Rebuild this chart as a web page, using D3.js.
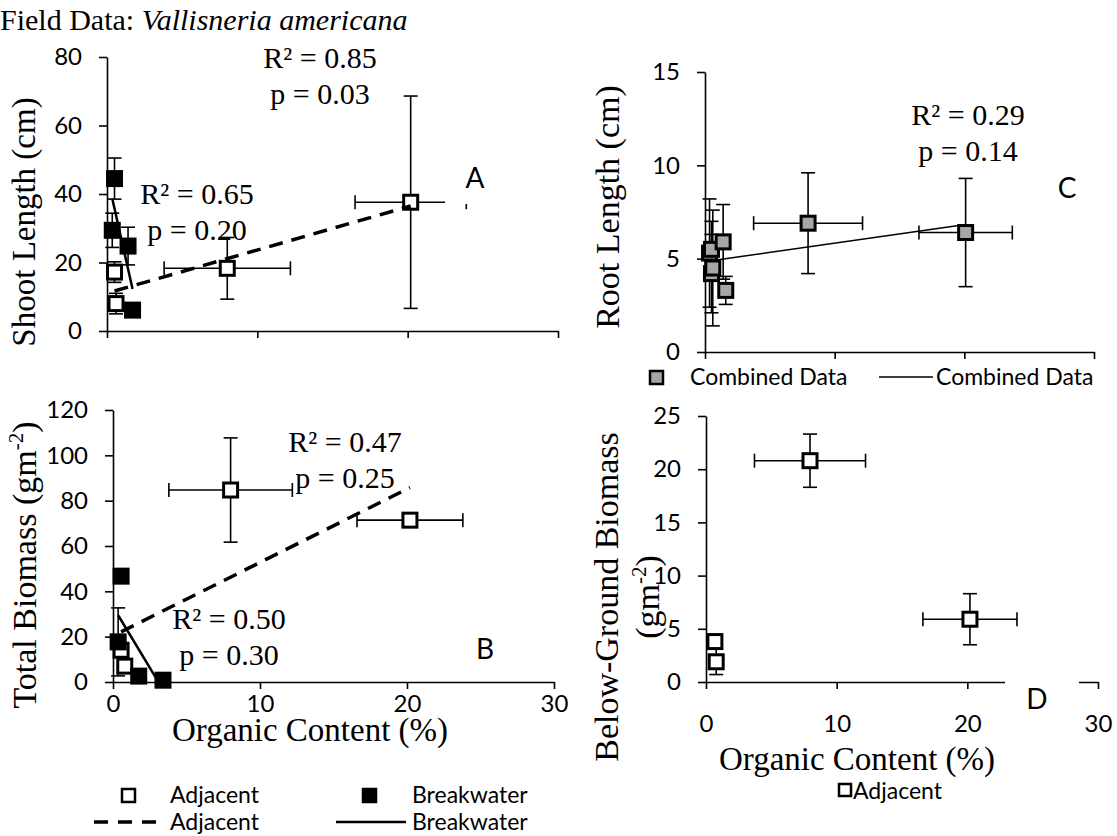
<!DOCTYPE html>
<html>
<head>
<meta charset="utf-8">
<script src="https://cdn.jsdelivr.net/npm/d3@7"></script>
<style>
  html, body { margin: 0; padding: 0; background: #fff; }
  svg { display: block; }
</style>
</head>
<body>
<svg id="chart" width="1117" height="836"></svg>
<script>
// ---- Field measurements of Vallisneria americana vs. sediment organic content ----
// Each point: organic content (x, %), response (y), and the error-bar half widths.

// Panel A: shoot length (cm)
const shootAdjacent = [
  { x: 0.5,  y: 17.2, xe: 0.2,  ye: 3.0 },
  { x: 0.6,  y: 8.0,  xe: 0.2,  ye: 3.0 },
  { x: 8.0,  y: 18.3, xe: 4.2,  ye: 9.0 },
  { x: 20.2, y: 37.6, xe: 3.7,  ye: 31.0 }
];
const shootBreakwater = [
  { x: 0.5,  y: 44.5, xe: 0.15, ye: 6.0 },
  { x: 0.35, y: 29.4, xe: 0.15, ye: 5.0 },
  { x: 1.4,  y: 24.8, xe: 0.2,  ye: 5.5 },
  { x: 1.7,  y: 6.1,  xe: 0.2,  ye: 1.0 }
];

// Panel B: total biomass (g m-2)
const biomassAdjacent = [
  { x: 0.55, y: 14.0, xe: 0.2, ye: 3.0 },
  { x: 0.8,  y: 7.0,  xe: 0.2, ye: 2.0 },
  { x: 8.0,  y: 84.7, xe: 4.2, ye: 23.0 },
  { x: 20.2, y: 71.4, xe: 3.6, ye: 2.0 }
];
const biomassBreakwater = [
  { x: 0.55, y: 46.7, xe: 0.2, ye: 2.0 },
  { x: 0.35, y: 17.7, xe: 0.2, ye: 15.0 },
  { x: 1.75, y: 2.6,  xe: 0.2, ye: 1.5 },
  { x: 3.4,  y: 0.8,  xe: 0.2, ye: 0.5 }
];

// Panel C: root length (cm), both sites pooled
const rootCombined = [
  { x: 0.35, y: 5.3, xe: 0.15, ye: 2.9 },
  { x: 0.5,  y: 5.5, xe: 0.15, ye: 1.5 },
  { x: 0.5,  y: 4.2, xe: 0.15, ye: 2.1 },
  { x: 0.6,  y: 4.5, xe: 0.2,  ye: 3.1 },
  { x: 1.4,  y: 5.9, xe: 0.2,  ye: 2.0 },
  { x: 1.6,  y: 3.3, xe: 0.2,  ye: 0.75 },
  { x: 7.95, y: 6.9, xe: 4.2,  ye: 2.7 },
  { x: 20.1, y: 6.4, xe: 3.6,  ye: 2.9 }
];

// Panel D: below-ground biomass (g m-2), adjacent site
const belowAdjacent = [
  { x: 0.68, y: 3.8,  xe: 0.15, ye: 0.6 },
  { x: 0.78, y: 1.9,  xe: 0.15, ye: 1.2 },
  { x: 7.96, y: 20.8, xe: 4.25, ye: 2.5 },
  { x: 20.2, y: 5.9,  xe: 3.6,  ye: 2.4 }
];

// Axis tick values
const xTicks = [0, 10, 20, 30];
const shootTicks = [0, 20, 40, 60, 80];
const rootTicks = [0, 5, 10, 15];
const biomassTicks = [0, 20, 40, 60, 80, 100, 120];
const belowTicks = [0, 5, 10, 15, 20, 25];

// Regression statistics printed beside the fits
const statsShoot = { adjacent: ["R² = 0.85", "p = 0.03"], breakwater: ["R² = 0.65", "p = 0.20"] };
const statsRoot = { combined: ["R² = 0.29", "p = 0.14"] };
const statsBiomass = { adjacent: ["R² = 0.47", "p = 0.25"], breakwater: ["R² = 0.50", "p = 0.30"] };

// ---- drawing ----
const SERIF = "'Liberation Serif','Times New Roman',Times,serif";
const SANS = "Lato,'Open Sans','Noto Sans',sans-serif";
const TICK_PX = 24, LEGEND_PX = 23, TITLE_PX = 34, STAT_PX = 30, LETTER_PX = 28;
const svg = d3.select("#chart");
const defs = svg.append("defs");

function panel(o) {
  const x = d3.scaleLinear().domain([0, 30]).range(o.xr);
  const y = d3.scaleLinear().domain([0, d3.max(o.yTicks)]).range(o.yr);
  const g = svg.append("g");
  defs.append("clipPath").attr("id", "clip-" + o.id)
    .append("rect")
    .attr("x", o.xr[0]).attr("y", o.yr[1])
    .attr("width", o.xr[1] - o.xr[0]).attr("height", o.yr[0] - o.yr[1]);

  const xa = g.append("g")
    .attr("transform", `translate(0,${o.yr[0]})`)
    .call(d3.axisBottom(x).tickValues(xTicks).tickSize(7).tickSizeOuter(0)
      .tickPadding(o.xPad || 8)
      .tickFormat(o.xLabels ? d3.format("d") : () => ""));
  const ya = g.append("g")
    .attr("transform", `translate(${o.xr[0]},0)`)
    .call(d3.axisLeft(y).tickValues(o.yTicks).tickSize(8).tickSizeOuter(0)
      .tickPadding(17).tickFormat(d3.format("d")));
  [xa, ya].forEach(a => {
    a.attr("font-size", null).attr("font-family", null);
    a.selectAll("path, line").attr("stroke", "#000").attr("stroke-width", 1.6);
    a.selectAll("text").attr("fill", "#000")
      .style("font-family", SANS).style("font-size", TICK_PX + "px");
  });
  return { x, y, g, clip: `url(#clip-${o.id})` };
}

function errorBars(p, data) {
  const eg = p.g.append("g").attr("stroke", "#000").attr("stroke-width", 1.6);
  const cap = 7;
  data.forEach(d => {
    const cx = p.x(d.x), cy = p.y(d.y);
    if (d.ye) {
      const t = p.y(d.y + d.ye), b = p.y(d.y - d.ye);
      eg.append("line").attr("x1", cx).attr("x2", cx).attr("y1", t).attr("y2", b);
      eg.append("line").attr("x1", cx - cap).attr("x2", cx + cap).attr("y1", t).attr("y2", t);
      eg.append("line").attr("x1", cx - cap).attr("x2", cx + cap).attr("y1", b).attr("y2", b);
    }
    if (d.xe) {
      const l = p.x(d.x - d.xe), r = p.x(d.x + d.xe);
      eg.append("line").attr("x1", l).attr("x2", r).attr("y1", cy).attr("y2", cy);
      eg.append("line").attr("x1", l).attr("x2", l).attr("y1", cy - cap).attr("y2", cy + cap);
      eg.append("line").attr("x1", r).attr("x2", r).attr("y1", cy - cap).attr("y2", cy + cap);
    }
  });
}

function markers(p, data, fill) {
  p.g.append("g").selectAll("rect").data(data).join("rect")
    .attr("x", d => p.x(d.x) - 7).attr("y", d => p.y(d.y) - 7)
    .attr("width", 14).attr("height", 14)
    .attr("fill", fill).attr("stroke", "#000").attr("stroke-width", 3);
}

// ordinary least-squares line over the range of the data
function leastSquares(data) {
  const mx = d3.mean(data, d => d.x), my = d3.mean(data, d => d.y);
  const b = d3.sum(data, d => (d.x - mx) * (d.y - my)) / d3.sum(data, d => (d.x - mx) ** 2);
  const a = my - b * mx;
  const [x0, x1] = d3.extent(data, d => d.x);
  return [[x0, a + b * x0], [x1, a + b * x1]];
}

function trend(p, data, width, dash) {
  p.g.append("path").datum(leastSquares(data))
    .attr("d", d3.line().x(d => p.x(d[0])).y(d => p.y(d[1])))
    .attr("clip-path", p.clip)
    .attr("fill", "none").attr("stroke", "#000")
    .attr("stroke-width", width)
    .attr("stroke-dasharray", dash || null);
}

function label(x, y, text, size, family, anchor) {
  return svg.append("text").attr("x", x).attr("y", y)
    .attr("text-anchor", anchor || "middle")
    .style("font-family", family).style("font-size", size + "px")
    .attr("fill", "#000").text(text);
}

function statPair(cx, y, lines) {
  label(cx, y, lines[0], STAT_PX, SERIF);
  label(cx, y + 36, lines[1], STAT_PX, SERIF);
}

// rotated axis title; each line is a list of [text, isSuperscript] parts
function yTitle(bx, cy, lines, size) {
  const t = svg.append("text")
    .attr("transform", `translate(${bx},${cy}) rotate(-90)`)
    .attr("text-anchor", "middle")
    .style("font-family", SERIF).style("font-size", size + "px").attr("fill", "#000");
  lines.forEach((parts, i) => {
    const line = t.append("tspan").attr("x", 0).attr("dy", i === 0 ? 0 : size * 1.2);
    let raised = false;
    parts.forEach(([s, sup]) => {
      const sp = line.append("tspan").text(s);
      if (sup) {
        sp.attr("dy", -size * 0.38).style("font-size", (size * 0.62) + "px");
        raised = true;
      } else if (raised) {
        sp.attr("dy", size * 0.38);
        raised = false;
      }
    });
  });
}

// ---- header ----
const head = svg.append("text").attr("x", 0).attr("y", 30)
  .style("font-family", SERIF).style("font-size", "30px").attr("fill", "#000");
head.append("tspan").text("Field Data: ");
head.append("tspan").style("font-style", "italic").text("Vallisneria americana");

// ---- Panel A ----
const pA = panel({ id: "a", xr: [107, 558], yr: [331, 57], yTicks: shootTicks, xLabels: false });
errorBars(pA, shootAdjacent);
errorBars(pA, shootBreakwater);
markers(pA, shootAdjacent, "#fff");
markers(pA, shootBreakwater, "#000");
trend(pA, shootAdjacent, 3.5, "14,9");
trend(pA, shootBreakwater, 2.5);
statPair(320, 68, statsShoot.adjacent);
statPair(197, 204, statsShoot.breakwater);
svg.append("rect").attr("x", 445).attr("y", 155).attr("width", 58).attr("height", 49).attr("fill", "#fff");
label(475, 188, "A", LETTER_PX, SANS);
yTitle(35, 222, [[["Shoot Length (cm)"]]], 33);

// ---- Panel C ----
const pC = panel({ id: "c", xr: [705, 1094], yr: [352, 72], yTicks: rootTicks, xLabels: false });
errorBars(pC, rootCombined);
markers(pC, rootCombined, "#a6a6a6");
trend(pC, rootCombined, 1.5);
statPair(968, 125, statsRoot.combined);
label(1067, 198, "C", LETTER_PX, SANS);
yTitle(619, 207, [[["Root Length (cm)"]]], TITLE_PX);

// legend C
const lgC = svg.append("g").style("font-family", SANS).style("font-size", LEGEND_PX + "px");
lgC.append("rect").attr("x", 650).attr("y", 371).attr("width", 13).attr("height", 13)
  .attr("fill", "#a6a6a6").attr("stroke", "#000").attr("stroke-width", 2.5);
lgC.append("text").attr("x", 690).attr("y", 385).text("Combined Data");
lgC.append("line").attr("x1", 879).attr("x2", 933).attr("y1", 377).attr("y2", 377)
  .attr("stroke", "#000").attr("stroke-width", 1.5);
lgC.append("text").attr("x", 936).attr("y", 385).text("Combined Data");

// ---- Panel B ----
const pB = panel({ id: "b", xr: [113, 554], yr: [682, 410], yTicks: biomassTicks, xLabels: true, xPad: 6 });
errorBars(pB, biomassAdjacent);
errorBars(pB, biomassBreakwater);
markers(pB, biomassAdjacent, "#fff");
markers(pB, biomassBreakwater, "#000");
trend(pB, biomassAdjacent, 3.5, "14,9");
trend(pB, biomassBreakwater, 2.5);
statPair(345, 452, statsBiomass.adjacent);
statPair(229, 629, statsBiomass.breakwater);
label(485, 659, "B", LETTER_PX, SANS);
yTitle(36, 565, [[["Total Biomass (gm"], ["-2", true], [")"]]], TITLE_PX);
label(310, 741, "Organic Content (%)", 33, SERIF);

// legend B
const lgB = svg.append("g").style("font-family", SANS).style("font-size", LEGEND_PX + "px");
lgB.append("rect").attr("x", 122).attr("y", 789).attr("width", 13).attr("height", 13)
  .attr("fill", "#fff").attr("stroke", "#000").attr("stroke-width", 2.5);
lgB.append("text").attr("x", 170).attr("y", 803).text("Adjacent");
lgB.append("rect").attr("x", 363).attr("y", 789).attr("width", 13).attr("height", 13)
  .attr("fill", "#000").attr("stroke", "#000").attr("stroke-width", 2.5);
lgB.append("text").attr("x", 412).attr("y", 803).text("Breakwater");
lgB.append("line").attr("x1", 94).attr("x2", 164).attr("y1", 822).attr("y2", 822)
  .attr("stroke", "#000").attr("stroke-width", 3.5).attr("stroke-dasharray", "14,10");
lgB.append("text").attr("x", 170).attr("y", 830).text("Adjacent");
lgB.append("line").attr("x1", 336).attr("x2", 406).attr("y1", 822).attr("y2", 822)
  .attr("stroke", "#000").attr("stroke-width", 2.5);
lgB.append("text").attr("x", 412).attr("y", 830).text("Breakwater");

// ---- Panel D ----
const pD = panel({ id: "d", xr: [706, 1098], yr: [682, 416], yTicks: belowTicks, xLabels: true, xPad: 26 });
errorBars(pD, belowAdjacent);
markers(pD, belowAdjacent, "#fff");
svg.append("rect").attr("x", 1005).attr("y", 668).attr("width", 74).attr("height", 45).attr("fill", "#fff");
label(1037, 709, "D", LETTER_PX, SANS);
yTitle(618, 597, [[["Below-Ground Biomass"]], [["(gm"], ["-2", true], [")"]]], TITLE_PX);
label(857, 770, "Organic Content (%)", 33, SERIF);

// legend D
const lgD = svg.append("g").style("font-family", SANS).style("font-size", LEGEND_PX + "px");
lgD.append("rect").attr("x", 839).attr("y", 784).attr("width", 12).attr("height", 12)
  .attr("fill", "#fff").attr("stroke", "#000").attr("stroke-width", 2.5);
lgD.append("text").attr("x", 853).attr("y", 799).text("Adjacent");
</script>
</body>
</html>
